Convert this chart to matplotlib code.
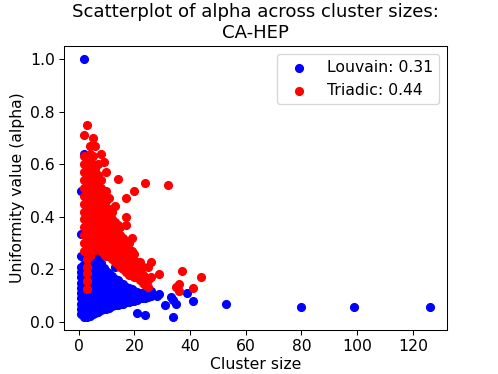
import matplotlib
matplotlib.use("Agg")
import matplotlib.pyplot as plt

# ------------------------------------------------------------
# Data (cluster size, alpha)
# ------------------------------------------------------------

louvain_size = (
    [1] * 13 + [2] * 13 + [3] * 11 + [4] * 11 + [5] * 11 + [6] * 11
    + [7] * 11 + [8] * 10 + [9] * 9 + [10] * 8 + [11] * 7 + [12] * 7
    + [13] * 7 + [14] * 6 + [15] * 5 + [16] * 5 + [17] * 4 + [18] * 4
    + [19] * 4 + [20] * 3 + [21] * 4 + [22] * 2 + [23] * 2 + [24] * 3
    + [25] * 2 + [26] * 2 + [28, 29, 31, 33, 34, 34, 35, 39, 41, 53, 80, 99, 126]
)
louvain_alpha = [
    0.03, 0.05, 0.07, 0.09, 0.11, 0.13, 0.15, 0.17, 0.19, 0.21, 0.25, 0.335, 0.50,
    0.02, 0.04, 0.06, 0.08, 0.10, 0.12, 0.14, 0.16, 0.18, 0.20, 0.22, 0.64, 1.00,
    0.02, 0.04, 0.06, 0.08, 0.10, 0.12, 0.14, 0.16, 0.18, 0.20, 0.22,
    0.025, 0.045, 0.065, 0.085, 0.105, 0.125, 0.145, 0.165, 0.185, 0.205, 0.23,
    0.03, 0.05, 0.07, 0.09, 0.11, 0.13, 0.15, 0.17, 0.19, 0.21, 0.235,
    0.035, 0.055, 0.075, 0.095, 0.115, 0.135, 0.155, 0.175, 0.195, 0.215, 0.24,
    0.04, 0.06, 0.08, 0.10, 0.12, 0.14, 0.16, 0.18, 0.20, 0.22, 0.25,
    0.045, 0.065, 0.085, 0.105, 0.125, 0.145, 0.165, 0.185, 0.205, 0.225,
    0.05, 0.07, 0.09, 0.11, 0.13, 0.15, 0.17, 0.19, 0.205,
    0.05, 0.07, 0.09, 0.11, 0.13, 0.15, 0.17, 0.195,
    0.055, 0.075, 0.095, 0.115, 0.135, 0.155, 0.185,
    0.06, 0.08, 0.10, 0.12, 0.14, 0.16, 0.175,
    0.065, 0.085, 0.105, 0.125, 0.145, 0.165, 0.21,
    0.065, 0.085, 0.105, 0.125, 0.145, 0.16,
    0.07, 0.09, 0.11, 0.13, 0.15,
    0.07, 0.09, 0.11, 0.13, 0.145,
    0.075, 0.095, 0.115, 0.135,
    0.075, 0.095, 0.115, 0.13,
    0.08, 0.10, 0.115, 0.125,
    0.08, 0.10, 0.12,
    0.034, 0.085, 0.10, 0.115,
    0.09, 0.11,
    0.09, 0.11,
    0.027, 0.09, 0.105,
    0.095, 0.11,
    0.098, 0.117,
    0.10, 0.105, 0.064, 0.094, 0.083, 0.019, 0.068, 0.11, 0.079, 0.068,
    0.056, 0.056, 0.056,
]

triadic_size = (
    [2] * 14 + [3] * 18 + [4] * 15 + [5] * 14 + [6] * 12 + [7] * 11
    + [8] * 11 + [9] * 10 + [10] * 10 + [11] * 8 + [12] * 7 + [13] * 7
    + [14] * 7 + [15] * 6 + [16] * 5 + [17] * 8 + [18] * 5 + [19] * 5
    + [20] * 5 + [21] * 3 + [22] * 3 + [23] * 3 + [24] * 3 + [25] * 3
    + [26] * 2 + [29, 32, 35, 36, 36, 37, 41, 44]
)
triadic_alpha = [
    0.27, 0.30, 0.33, 0.36, 0.39, 0.42, 0.45, 0.48, 0.51, 0.54, 0.57, 0.60, 0.63, 0.71,
    0.125, 0.155, 0.185, 0.21, 0.24, 0.27, 0.30, 0.33, 0.36, 0.39, 0.42, 0.45, 0.48, 0.51, 0.54, 0.57, 0.60, 0.75,
    0.25, 0.28, 0.31, 0.34, 0.37, 0.40, 0.43, 0.46, 0.49, 0.52, 0.55, 0.58, 0.61, 0.64, 0.67,
    0.27, 0.30, 0.33, 0.36, 0.39, 0.42, 0.45, 0.48, 0.51, 0.54, 0.57, 0.60, 0.63, 0.70,
    0.28, 0.31, 0.34, 0.37, 0.40, 0.43, 0.46, 0.49, 0.52, 0.55, 0.58, 0.67,
    0.28, 0.31, 0.34, 0.37, 0.40, 0.43, 0.46, 0.49, 0.52, 0.56, 0.60,
    0.27, 0.30, 0.33, 0.36, 0.39, 0.42, 0.45, 0.48, 0.51, 0.54, 0.64,
    0.26, 0.29, 0.32, 0.35, 0.38, 0.41, 0.44, 0.47, 0.50, 0.61,
    0.25, 0.28, 0.31, 0.34, 0.37, 0.40, 0.43, 0.46, 0.50, 0.57,
    0.25, 0.28, 0.31, 0.34, 0.37, 0.40, 0.43, 0.47,
    0.24, 0.27, 0.30, 0.33, 0.36, 0.39, 0.42,
    0.23, 0.26, 0.29, 0.32, 0.35, 0.38, 0.44,
    0.22, 0.25, 0.28, 0.31, 0.34, 0.37, 0.545,
    0.21, 0.24, 0.27, 0.30, 0.33, 0.36,
    0.20, 0.23, 0.26, 0.29, 0.32,
    0.19, 0.22, 0.25, 0.28, 0.31, 0.37, 0.40, 0.47,
    0.18, 0.21, 0.24, 0.27, 0.30,
    0.18, 0.21, 0.24, 0.27, 0.32,
    0.17, 0.20, 0.23, 0.26, 0.50,
    0.17, 0.20, 0.23,
    0.16, 0.19, 0.23,
    0.15, 0.18, 0.21,
    0.14, 0.17, 0.527,
    0.135, 0.16, 0.21,
    0.17, 0.23,
    0.184, 0.52, 0.135, 0.12, 0.143, 0.195, 0.13, 0.17,
]

louvain_label = "Louvain: 0.31"
triadic_label = "Triadic: 0.44"

# ------------------------------------------------------------
# Plot
# ------------------------------------------------------------

plt.rcParams["font.size"] = 12

DPI = 93.6
fig = plt.figure(figsize=(498 / DPI, 374 / DPI), dpi=DPI)
ax = fig.add_axes([0.1285, 0.1176, 0.7691, 0.7594])

ax.scatter(louvain_size, louvain_alpha, color="blue", label=louvain_label)
ax.scatter(triadic_size, triadic_alpha, color="red", label=triadic_label)

ax.set_xlabel("Cluster size", labelpad=2)
ax.set_ylabel("Uniformity value (alpha)")
ax.set_title("Scatterplot of alpha across cluster sizes:\nCA-HEP", fontsize=14)
ax.legend()

fig.savefig("out.png", dpi=DPI)
plt.close(fig)
